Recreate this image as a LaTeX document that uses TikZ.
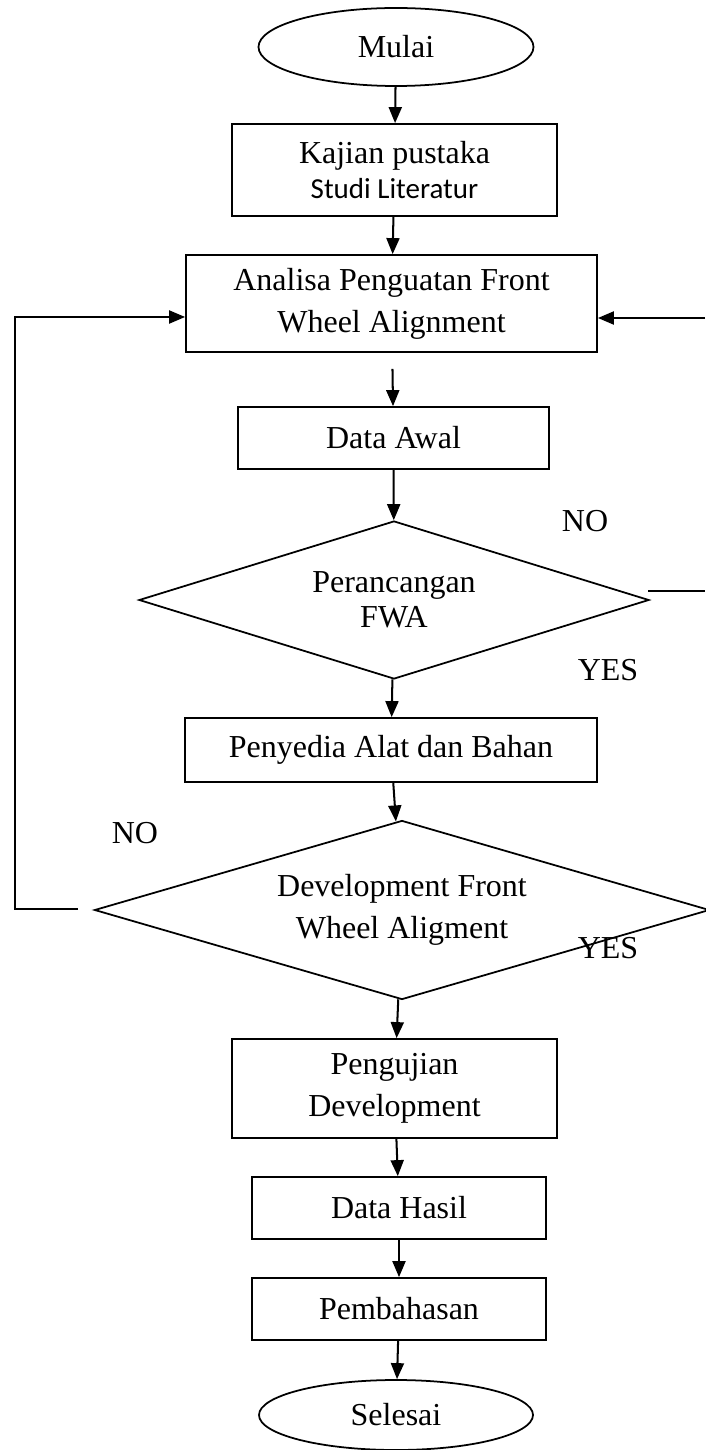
\documentclass[tikz,border=0pt]{standalone}
\usepackage{fontspec}
\setmainfont{Liberation Serif}
\newfontfamily\calibri{Carlito}
\usetikzlibrary{arrows.meta,positioning,shapes.geometric}
\tikzset{
  >={Triangle[length=3.2mm,width=2.6mm]},
  base/.style ={draw,line width=1pt,align=center,inner sep=0pt,
                font=\fontsize{18.2}{24}\selectfont},
  term/.style ={base,ellipse},
  proc/.style ={base,rectangle},
  cond/.style ={base,diamond,aspect=3.3},
  ar/.style   ={->,line width=1.15pt},
  ln/.style   ={line width=1.15pt},
  lbl/.style  ={font=\fontsize{18.2}{24}\selectfont,inner sep=0pt},
}
\begin{document}
\begin{tikzpicture}[x=0.2mm,y=-0.2mm]
\useasboundingbox (0,0) rectangle (705,1450);
\node[term,minimum width=5.5cm,minimum height=1.56cm] (mulai) at (396,47) {Mulai};
\node[proc,minimum width=6.5cm,minimum height=1.84cm] (kajian) at (394.5,170)
  {Kajian pustaka\\[-4pt] {\calibri\fontsize{16.5}{20}\selectfont Studi Literatur}};
\node[proc,minimum width=8.22cm,minimum height=1.94cm] (analisa) at (391.5,303.5)
  {Analisa Penguatan Front\\ Wheel Alignment};
\node[proc,minimum width=6.22cm,minimum height=1.24cm] (awal) at (393.5,438) {Data Awal};
\node[cond,minimum width=10.2cm,minimum height=3.16cm] (rancang) at (394,600)
  {Perancangan\\[-4pt] FWA};
\node[proc,minimum width=8.24cm,minimum height=1.28cm] (alat) at (391,750)
  {Penyedia Alat dan Bahan};
\node[cond,minimum width=12.3cm,minimum height=3.58cm] (devel) at (402,910)
  {Development Front\\ Wheel Aligment};
\node[proc,minimum width=6.5cm,minimum height=1.98cm] (uji) at (394.5,1088.5)
  {Pengujian\\ Development};
\node[proc,minimum width=5.88cm,minimum height=1.24cm] (hasil) at (399,1208) {Data Hasil};
\node[proc,minimum width=5.88cm,minimum height=1.24cm] (bahas) at (399,1309) {Pembahasan};
\node[term,minimum width=5.48cm,minimum height=1.4cm] (selesai) at (396,1415) {Selesai};
% labels
\node[lbl] (no1)  at (585,521) {NO};
\node[lbl] (yes1) at (608,670) {YES};
\node[lbl] (no2)  at (135,833) {NO};
\node[lbl] (yes2) at (608,948) {YES};
% main flow
\draw[ar] (mulai) -- (kajian);
\draw[ar] (kajian) -- (analisa);
\draw[ar,shorten <=3.2mm] (analisa) -- (awal);
\draw[ar] (awal) -- (rancang);
\draw[ar] (rancang) -- (alat);
\draw[ar] (alat) -- (devel);
\draw[ar] (devel) -- (uji);
\draw[ar] (uji) -- (hasil);
\draw[ar] (hasil) -- (bahas);
\draw[ar] (bahas) -- (selesai);
% loops
\coordinate (rin) at (705,318);
\coordinate (rs1) at (648,591);
\coordinate (rs2) at (705,591);
\coordinate (ls) at (78,909);
\coordinate (lc) at (15,317);
\draw[ar] (rin) -- (rin -| analisa.east);
\draw[ln] (rs1) -- (rs2);
\draw[ar] (ls) -| (lc) -- (lc -| analisa.west);
\end{tikzpicture}
\end{document}
